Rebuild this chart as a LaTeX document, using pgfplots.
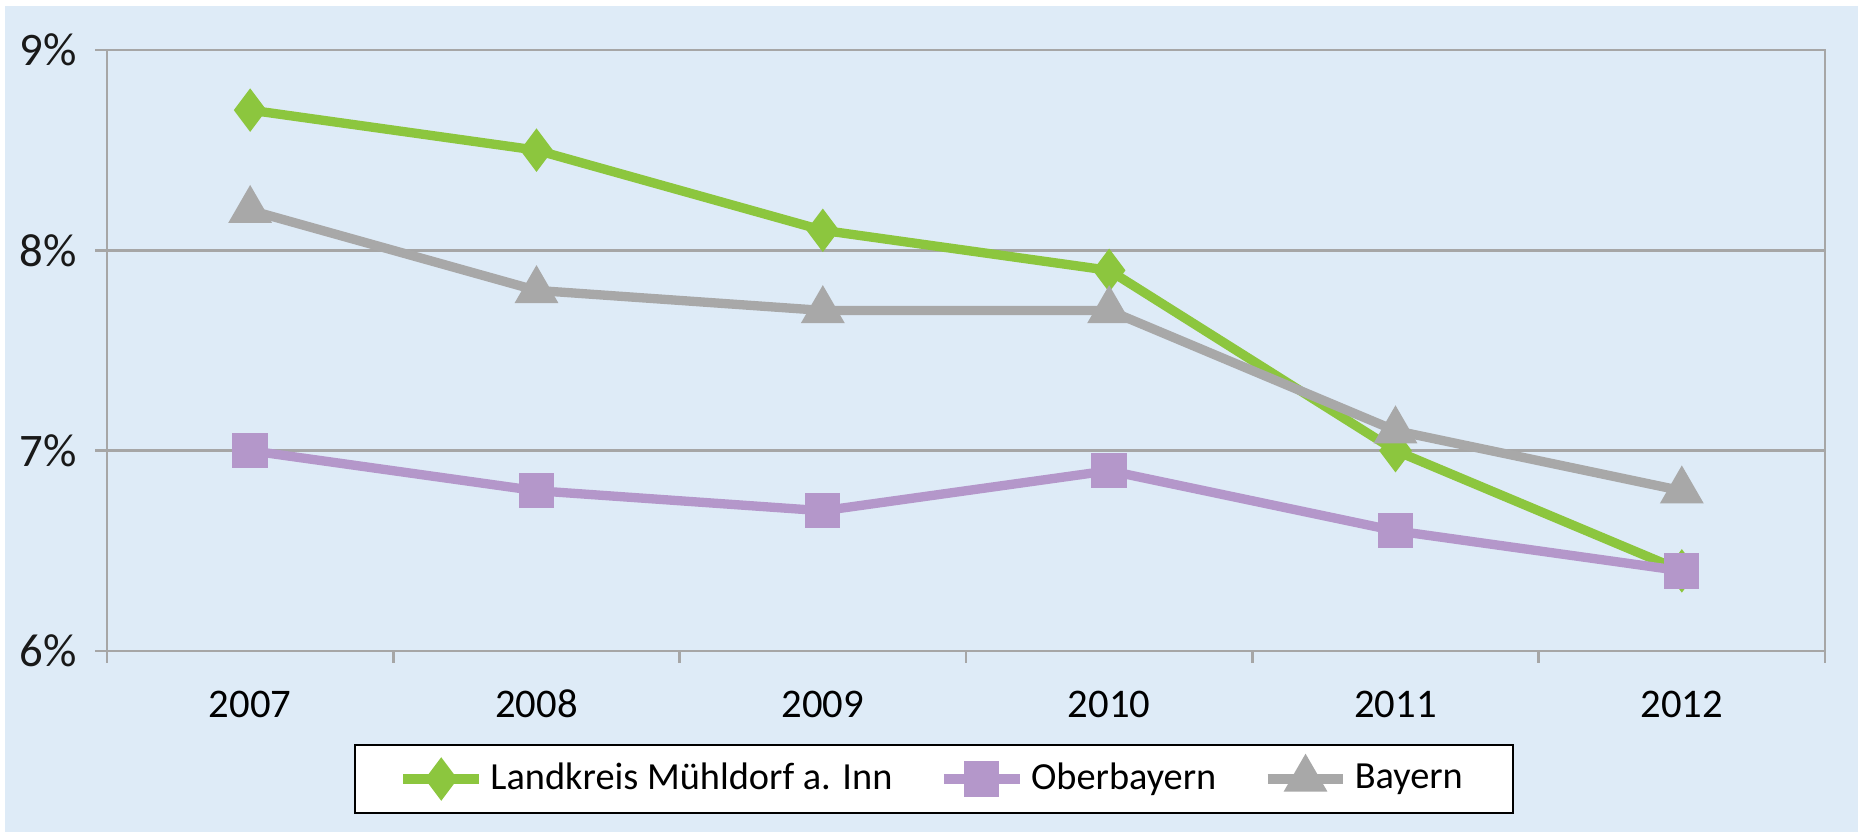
\documentclass[border=0pt]{standalone}
\usepackage{pgfplots}
\pgfplotsset{compat=1.18}
\usepackage{fontspec}
\setmainfont{Carlito}
\definecolor{bg}{HTML}{DEEBF7}
\definecolor{gridc}{HTML}{A6A6A6}
\definecolor{cgreen}{HTML}{8CC63E}
\definecolor{cpurple}{HTML}{B497CA}
\definecolor{cgray}{HTML}{A8A8A8}
\begin{document}
\begin{tikzpicture}
\path[use as bounding box] (-32.1pt,-54.3pt) rectangle (525.3pt,195.3pt);
\fill[bg] (-30.6pt,-54.3pt) rectangle (525.3pt,193.5pt);
\begin{axis}[
  at={(0,0)}, anchor=south west,
  scale only axis, width=515.4pt, height=180.3pt,
  xmin=-0.5, xmax=5.5, ymin=6, ymax=9,
  axis line style={draw=gridc, line width=0.8pt},
  ymajorgrids, grid style={draw=gridc, line width=0.8pt},
  ytick={6,7,8,9}, yticklabels={6\%,7\%,8\%,9\%},
  xtick pos=bottom, ytick pos=left,
  tick align=outside, major tick length=3.5pt,
  tick style={draw=gridc, line width=0.8pt},
  yticklabel style={font=\fontsize{14}{15}\selectfont, xshift=-2pt, text=black!90},
  xtick={-0.5,0.5,...,5.5}, xticklabels={},
  extra x ticks={0,1,2,3,4,5},
  extra x tick labels={2007,2008,2009,2010,2011,2012},
  extra x tick style={major tick length=0pt, grid=none,
    tick label style={font=\fontsize{12.2}{13}\selectfont, yshift=-8pt, text=black,
      text height=8.5pt, text depth=0pt}},
  legend columns=3,
  legend style={at={(0.4814,-0.213)}, anchor=center, draw=black, line width=0.6pt,
    fill=white, font=\fontsize{11.5}{12}\selectfont, inner xsep=13pt, inner ysep=3.5pt,
    /tikz/every even column/.style={column sep=12pt}},
  legend image code/.code={\draw[mark repeat=2,mark phase=2] plot coordinates {(0cm,0cm)(0.4cm,0cm)(0.8cm,0cm)};},
  every axis plot/.append style={line width=2.8pt},
]
\addplot[cgreen, mark=diamond*, mark size=4.2pt, mark options={solid}] coordinates {(0,8.7)(1,8.5)(2,8.1)(3,7.9)(4,7.0)(5,6.4)};
\addlegendentry{Landkreis Mühldorf a. Inn}
\addplot[cpurple, mark=square*, mark size=3.9pt] coordinates {(0,7.0)(1,6.8)(2,6.7)(3,6.9)(4,6.6)(5,6.4)};
\addlegendentry{Oberbayern}
\addplot[cgray, mark=triangle*, mark size=4.8pt] coordinates {(0,8.2)(1,7.8)(2,7.7)(3,7.7)(4,7.1)(5,6.8)};
\addlegendentry{Bayern}
\end{axis}
\end{tikzpicture}
\end{document}
